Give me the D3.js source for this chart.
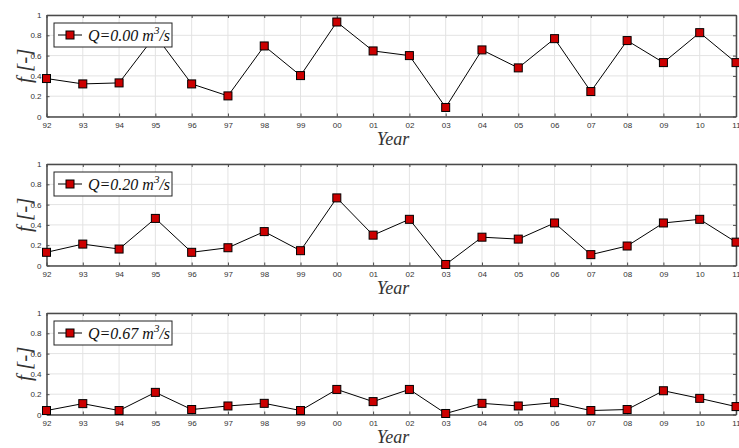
<!DOCTYPE html>
<html>
<head>
<meta charset="utf-8">
<script src="https://cdn.jsdelivr.net/npm/d3@7"></script>
<style>
  html, body { margin: 0; padding: 0; background: #fff; }
  svg { display: block; }
</style>
</head>
<body>
<svg id="chart" width="739" height="448"></svg>
<script>
// Years on the x axis (two-digit labels)
const years = ["92","93","94","95","96","97","98","99","00","01","02","03","04","05","06","07","08","09","10","11"];
const yTicks = [0, 0.2, 0.4, 0.6, 0.8, 1];
const yTickLabels = ["0", "0.2", "0.4", "0.6", "0.8", "1"];

// Frequency f for each discharge threshold
const fQ000 = [0.374, 0.321, 0.331, 0.80, 0.321, 0.203, 0.695, 0.403, 0.931, 0.646, 0.600, 0.089, 0.656, 0.479, 0.767, 0.246, 0.748, 0.531, 0.826, 0.531];
const fQ020 = [0.130, 0.211, 0.162, 0.464, 0.130, 0.175, 0.334, 0.146, 0.666, 0.299, 0.455, 0.010, 0.279, 0.260, 0.419, 0.107, 0.192, 0.419, 0.455, 0.230];
const fQ067 = [0.039, 0.107, 0.039, 0.218, 0.049, 0.084, 0.110, 0.039, 0.247, 0.127, 0.247, 0.010, 0.110, 0.084, 0.117, 0.039, 0.049, 0.234, 0.159, 0.078];

const seriesLabels = ["0.00", "0.20", "0.67"];
const seriesValues = [fQ000, fQ020, fQ067];

const svg = d3.select("#chart");
const left = 46.5, right = 736;
const panelTops = [15, 164, 313];
const panelH = 101.5;

const x = d3.scalePoint().domain(years).range([left, right]);

seriesValues.forEach((vals, i) => {
  const top = panelTops[i];
  const y = d3.scaleLinear().domain([0, 1]).range([top + panelH, top]);
  const g = svg.append("g");

  // grid
  g.append("g").selectAll("line.gx").data(years).join("line")
    .attr("x1", d => x(d)).attr("x2", d => x(d))
    .attr("y1", top).attr("y2", top + panelH)
    .attr("stroke", "#e3e3e3").attr("stroke-width", 1);
  g.append("g").selectAll("line.gy").data(yTicks).join("line")
    .attr("x1", left).attr("x2", right)
    .attr("y1", d => y(d)).attr("y2", d => y(d))
    .attr("stroke", "#e3e3e3").attr("stroke-width", 1);

  // axes (inward ticks, boxed)
  const tl = 3;
  const xb = d3.axisBottom(x).tickSizeInner(-tl).tickSizeOuter(0).tickPadding(6);
  const xt = d3.axisTop(x).tickSizeInner(-tl).tickSizeOuter(0).tickFormat("");
  const yl = d3.axisLeft(y).tickValues(yTicks).tickFormat((d, k) => yTickLabels[k]).tickSizeInner(-tl).tickSizeOuter(0).tickPadding(5);
  const yr = d3.axisRight(y).tickValues(yTicks).tickSizeInner(-tl).tickSizeOuter(0).tickFormat("");

  const axes = [
    g.append("g").attr("transform", `translate(0,${top + panelH})`).call(xb),
    g.append("g").attr("transform", `translate(0,${top})`).call(xt),
    g.append("g").attr("transform", `translate(${left},0)`).call(yl),
    g.append("g").attr("transform", `translate(${right},0)`).call(yr)
  ];
  axes.forEach(a => {
    a.select(".domain").attr("stroke", "#4a4a4a").attr("stroke-width", 1.5);
    a.selectAll(".tick line").attr("stroke", "#4a4a4a").attr("stroke-width", 1);
    a.selectAll(".tick text").attr("fill", "#333").attr("font-family", "Liberation Sans, Arial, sans-serif").attr("font-size", 8);
  });

  // series line + markers
  const line = d3.line().x((d, k) => x(years[k])).y(d => y(d));
  g.append("path").datum(vals).attr("d", line)
    .attr("fill", "none").attr("stroke", "#000").attr("stroke-width", 1);
  const ms = 8;
  g.append("g").selectAll("rect").data(vals).join("rect")
    .attr("x", (d, k) => x(years[k]) - ms / 2)
    .attr("y", d => y(d) - ms / 2)
    .attr("width", ms).attr("height", ms)
    .attr("fill", "#cc0000").attr("stroke", "#000").attr("stroke-width", 1);

  // legend
  const lx = 54, ly = top + 8, lw = 118, lh = 24;
  const lg = g.append("g");
  lg.append("rect").attr("x", lx).attr("y", ly).attr("width", lw).attr("height", lh)
    .attr("fill", "#fff").attr("stroke", "#222").attr("stroke-width", 1);
  lg.append("line").attr("x1", lx + 4).attr("x2", lx + 28).attr("y1", ly + lh / 2).attr("y2", ly + lh / 2)
    .attr("stroke", "#000").attr("stroke-width", 1);
  lg.append("rect").attr("x", lx + 16 - ms / 2).attr("y", ly + lh / 2 - ms / 2).attr("width", ms).attr("height", ms)
    .attr("fill", "#cc0000").attr("stroke", "#000");
  const lt = lg.append("text").attr("x", lx + 34).attr("y", ly + lh / 2 + 6)
    .attr("font-family", "Liberation Serif, Times New Roman, serif").attr("font-style", "italic")
    .attr("font-size", 16).attr("fill", "#111");
  lt.append("tspan").text(`Q=${seriesLabels[i]} m`);
  lt.append("tspan").attr("dy", -7).attr("font-size", 11).text("3");
  lt.append("tspan").attr("dy", 7).text("/s");

  // axis titles
  g.append("text")
    .attr("transform", `translate(31,${top + panelH / 2}) rotate(-90)`)
    .attr("text-anchor", "middle")
    .attr("font-family", "Liberation Serif, Times New Roman, serif").attr("font-style", "italic")
    .attr("font-size", 21).attr("fill", "#333").text("f [-]");
  g.append("text")
    .attr("x", 393).attr("y", top + panelH + 28)
    .attr("text-anchor", "middle")
    .attr("font-family", "Liberation Serif, Times New Roman, serif").attr("font-style", "italic")
    .attr("font-size", 18).attr("fill", "#333").text("Year");
});
</script>
</body>
</html>
